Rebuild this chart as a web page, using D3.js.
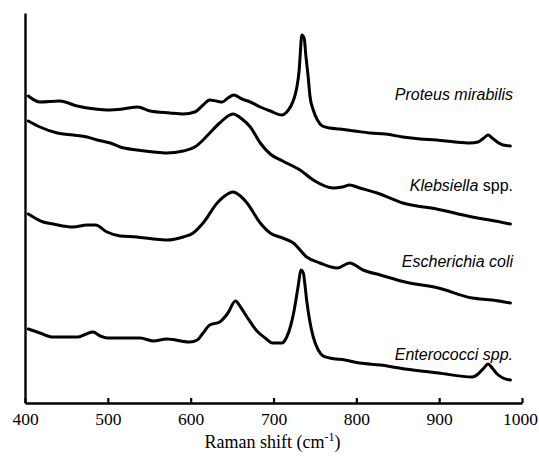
<!DOCTYPE html>
<html>
<head>
<meta charset="utf-8">
<script src="https://cdn.jsdelivr.net/npm/d3@7"></script>
<style>
  html, body { margin: 0; padding: 0; background: #fff; }
  svg { display: block; }
</style>
</head>
<body>
<svg id="chart" width="539" height="457"></svg>
<script>
// ---- Data (Raman shift in cm^-1, intensity in arbitrary offset units) ----
const proteusX = [404,418,442,463,485,499,518,536,551,575,591,605,615,623,631,638,645,652,662,672,684,696,710,716,721,725,728,731,733,734,737,739,742,744,748,753,759,768,780,798,817,835,856,877,897,919,937,947,954,959,964,970,977,986];
const proteusY = [307,301,302,297,294,293,294,296,292,290,289,291,298,303,302,301,305,308,304,301,296,292,288,291,297,305,315,333,358,368,365,348,325,307,293,283,277,275,274,272,270,269,266,264,263,261,260,261,265,268,265,261,258,257];

const klebsiellaX = [404,418,439,458,475,487,503,515,535,555,571,591,605,615,623,635,651,662,672,684,696,711,732,748,772,783,792,804,825,856,897,940,961,986];
const klebsiellaY = [282,276,270,268,266,263,260,256,253,251,250,252,256,263,270,280,289,284,276,260,249,242,233,223,215,216,218,215,210,200,194,186,183,179];

const ecoliX = [404,422,434,458,475,485,499,515,535,555,571,591,603,615,632,641,651,660,668,684,696,711,724,740,756,777,792,808,829,859,899,940,964,986];
const ecoliY = [189,181,179,176,178,178,171,167,166,164,163,166,170,180,200,207,211,207,200,180,170,165,160,146,140,135,140,133,128,121,115,105,103,100];

const enteroX = [404,418,434,463,474,482,491,499,521,539,555,571,599,608,615,623,635,645,654,661,668,680,690,699,710,716,721,725,730,733,736,738,740,744,748,754,760,768,786,804,829,859,899,940,947,954,959,964,970,977,986];
const enteroY = [74,70,66,66,69,71,67,65,65,65,62,64,61,63,70,78,81,90,102,95,86,72,65,60,60,66,78,93,118,133,130,118,103,81,66,53,47,45,43,40,38,34,30,26,29,35,39,35,29,25,23];

const seriesNames = ["Proteus mirabilis", "Klebsiella spp.", "Escherichia coli", "Enterococci spp."];
const xTicks = [400, 500, 600, 700, 800, 900, 1000];
const xTitle = "Raman shift (cm";
const xTitleSup = "-1";

// ---- Layout ----
const svg = d3.select("#chart");
const mLeft = 25, mRight = 522, mTop = 13, mBottom = 403;

const x = d3.scaleLinear().domain([400, 1000]).range([mLeft, mRight]);
const y = d3.scaleLinear().domain([0, 390]).range([mBottom, mTop]);

const series = [
  { name: seriesNames[0], xs: proteusX, ys: proteusY },
  { name: seriesNames[1], xs: klebsiellaX, ys: klebsiellaY },
  { name: seriesNames[2], xs: ecoliX, ys: ecoliY },
  { name: seriesNames[3], xs: enteroX, ys: enteroY }
];

const line = d3.line()
  .x(d => x(d[0]))
  .y(d => y(d[1]))
  .curve(d3.curveMonotoneX);

svg.append("g").selectAll("path")
  .data(series)
  .join("path")
  .attr("d", s => line(s.xs.map((v, i) => [v, s.ys[i]])))
  .attr("fill", "none")
  .attr("stroke", "#000")
  .attr("stroke-width", 3)
  .attr("stroke-linejoin", "round")
  .attr("stroke-linecap", "round");

// X axis
const xAxis = d3.axisBottom(x)
  .tickValues(xTicks)
  .tickFormat(d3.format("d"))
  .tickSizeInner(-5)
  .tickSizeOuter(0)
  .tickPadding(10);

const gx = svg.append("g")
  .attr("transform", `translate(0,${mBottom})`)
  .call(xAxis);
gx.select(".domain").attr("stroke", "#000").attr("stroke-width", 2.4);
gx.selectAll(".tick line").attr("stroke", "#000").attr("stroke-width", 2.2);
gx.selectAll(".tick text")
  .attr("fill", "#000")
  .style("font-family", "'Liberation Serif', 'Times New Roman', serif")
  .style("font-size", "17.5px");
gx.selectAll(".tick text").filter(d => d === 1000).attr("dx", -2);

// Y axis (line only)
const yAxis = d3.axisLeft(y).tickValues([]).tickSizeOuter(0);
const gy = svg.append("g")
  .attr("transform", `translate(${mLeft},0)`)
  .call(yAxis);
gy.select(".domain").attr("stroke", "#000").attr("stroke-width", 2.4);

// X title
const title = svg.append("text")
  .attr("x", (mLeft + mRight) / 2 - 1)
  .attr("y", 448)
  .attr("text-anchor", "middle")
  .style("font-family", "'Liberation Serif', 'Times New Roman', serif")
  .style("font-size", "18px")
  .attr("fill", "#000");
title.append("tspan").text(xTitle);
title.append("tspan").attr("dy", -7).style("font-size", "12px").text(xTitleSup);
title.append("tspan").attr("dy", 7).text(")");

// Series labels
const labelFont = "'Liberation Sans', Arial, sans-serif";
const labelY = [100, 191, 267, 360];
const labels = svg.append("g")
  .style("font-family", labelFont)
  .style("font-size", "16px")
  .attr("fill", "#000");

function addLabel(i, italicPart, uprightPart, allItalic) {
  const t = labels.append("text")
    .attr("x", 513)
    .attr("y", labelY[i])
    .attr("text-anchor", "end");
  t.append("tspan").style("font-style", "italic").text(italicPart);
  if (uprightPart) {
    t.append("tspan").style("font-style", allItalic ? "italic" : "normal").text(uprightPart);
  }
}
addLabel(0, seriesNames[0], null, true);
addLabel(1, "Klebsiella", " spp.", false);
addLabel(2, seriesNames[2], null, true);
addLabel(3, "Enterococci", " spp.", true);
</script>
</body>
</html>
